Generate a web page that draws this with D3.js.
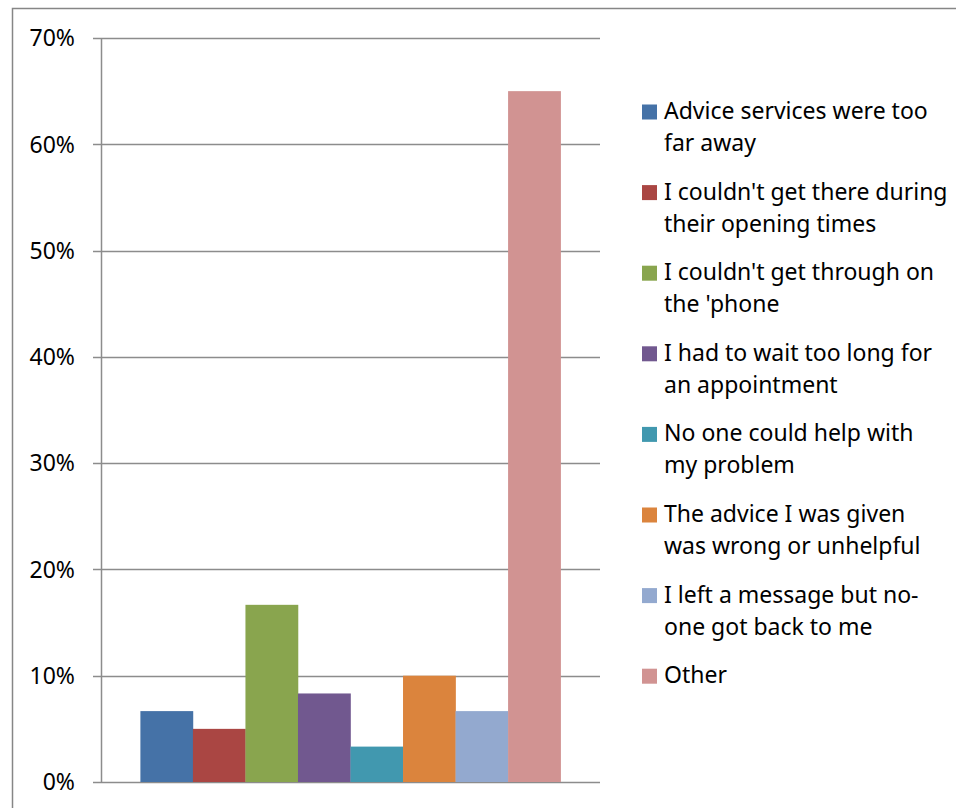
<!DOCTYPE html>
<html>
<head>
<meta charset="utf-8">
<script src="https://cdn.jsdelivr.net/npm/d3@7"></script>
<style>
  html, body { margin: 0; padding: 0; background: #fff; }
  svg { display: block; }
  text { font-family: "Noto Sans", "Open Sans", sans-serif; fill: #000; }
</style>
</head>
<body>
<svg id="chart" width="956" height="808"></svg>
<script>
// ---- data ----
const categories = ["Reasons"];
const seriesNames = [
  "Advice services were too far away",
  "I couldn't get there during their opening times",
  "I couldn't get through on the 'phone",
  "I had to wait too long for an appointment",
  "No one could help with my problem",
  "The advice I was given was wrong or unhelpful",
  "I left a message but no-one got back to me",
  "Other"
];
const legendLines = [
  ["Advice services were too", "far away"],
  ["I couldn't get there during", "their opening times"],
  ["I couldn't get through on", "the 'phone"],
  ["I had to wait too long for", "an appointment"],
  ["No one could help with", "my problem"],
  ["The advice I was given", "was wrong or unhelpful"],
  ["I left a message but no-", "one got back to me"],
  ["Other"]
];
const values = [0.0667, 0.05, 0.1667, 0.0833, 0.0333, 0.10, 0.0667, 0.65];
const colors = ["#4572a7", "#aa4643", "#89a54e", "#71588f", "#4198af", "#db843d", "#93a9cf", "#d19392"];
const yTicks = [0, 0.1, 0.2, 0.3, 0.4, 0.5, 0.6, 0.7];

// ---- layout ----
const svg = d3.select("#chart");
const plot = { left: 101, right: 600, top: 38, bottom: 782 };

// outer border
svg.append("rect")
  .attr("x", 12.5).attr("y", 8.5)
  .attr("width", 1000).attr("height", 900)
  .attr("fill", "none").attr("stroke", "#868686").attr("stroke-width", 1.5);

const y = d3.scaleLinear().domain([0, 0.7]).range([plot.bottom, plot.top]);

const gapWidth = 1.5; // Excel-style gap width relative to bar width
const nS = seriesNames.length;
const outerPad = (gapWidth / 2) / nS;
const x0 = d3.scaleBand().domain(categories).range([plot.left, plot.right])
  .paddingInner(0).paddingOuter(outerPad);
const x1 = d3.scaleBand().domain(seriesNames).range([0, x0.bandwidth()]).padding(0);

// gridlines
const grid = svg.append("g");
grid.selectAll("line").data(yTicks).join("line")
  .attr("x1", plot.left - 8).attr("x2", plot.right)
  .attr("y1", d => Math.round(y(d)) + 0.5).attr("y2", d => Math.round(y(d)) + 0.5)
  .attr("stroke", "#8c8c8c").attr("stroke-width", 1.5);

// y axis line
svg.append("line")
  .attr("x1", plot.left + 0.5).attr("x2", plot.left + 0.5)
  .attr("y1", plot.top).attr("y2", plot.bottom + 1)
  .attr("stroke", "#8c8c8c").attr("stroke-width", 1.5);

// y labels
const fmt = d3.format(".0%");
svg.append("g").selectAll("text").data(yTicks).join("text")
  .attr("x", 75).attr("y", d => y(d))
  .attr("dy", "0.36em")
  .attr("text-anchor", "end")
  .attr("font-size", 23)
  .text(d => fmt(d));

// bars
svg.append("g").selectAll("rect").data(values).join("rect")
  .attr("x", (d, i) => x0(categories[0]) + x1(seriesNames[i]))
  .attr("width", x1.bandwidth() + 0.3)
  .attr("y", d => y(d))
  .attr("height", d => y(0) - y(d))
  .attr("fill", (d, i) => colors[i]);

// legend
const legend = svg.append("g");
const legTop = 119, legStep = 80.6, lineH = 32;
legendLines.forEach((lines, i) => {
  const by = legTop + i * legStep;
  legend.append("rect")
    .attr("x", 642).attr("y", by - 14.5)
    .attr("width", 15).attr("height", 15)
    .attr("fill", colors[i]);
  const t = legend.append("text").attr("font-size", 23);
  lines.forEach((ln, j) => {
    t.append("tspan").attr("x", 664).attr("y", by + j * lineH).text(ln);
  });
});
</script>
</body>
</html>
